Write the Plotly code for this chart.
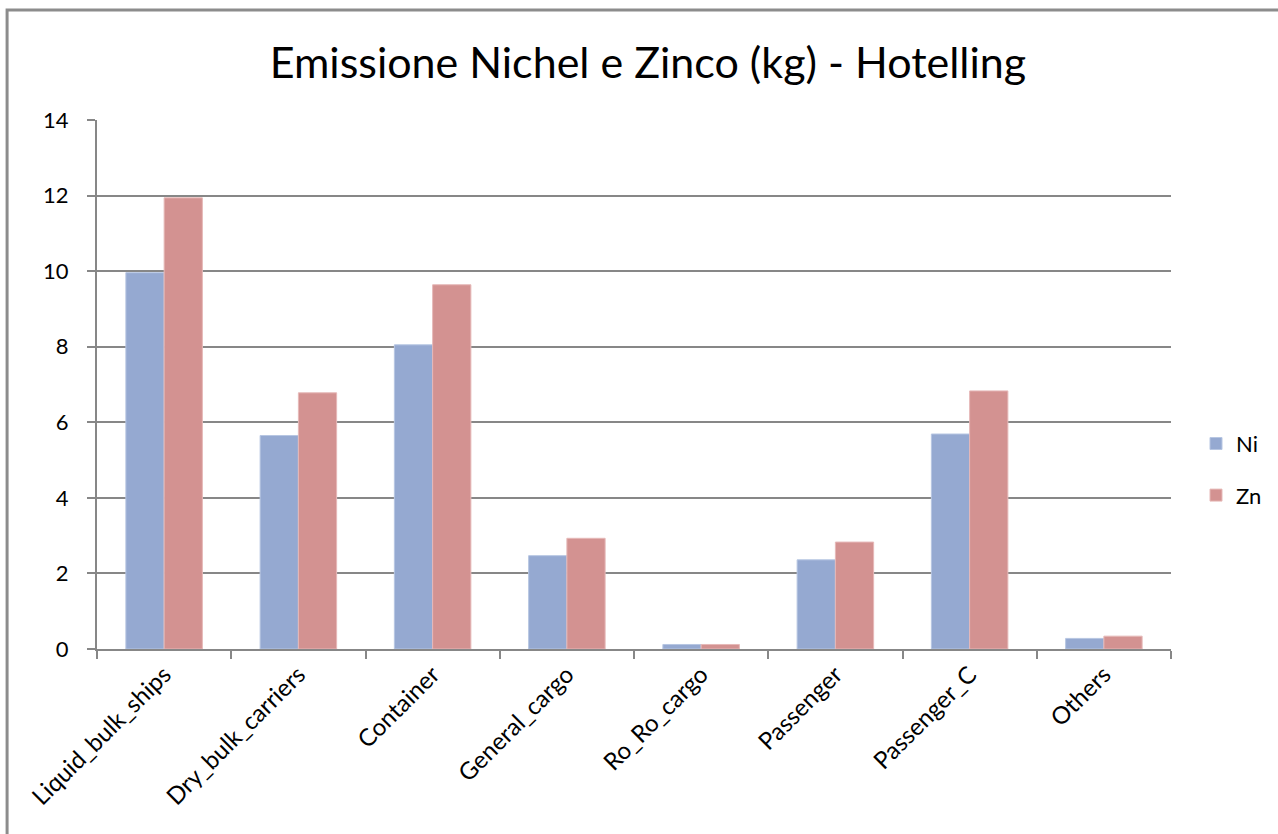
import plotly.graph_objects as go

categories = ["Liquid_bulk_ships", "Dry_bulk_carriers", "Container", "General_cargo",
              "Ro_Ro_cargo", "Passenger", "Passenger_C", "Others"]
ni_values = [9.96, 5.65, 8.05, 2.47, 0.12, 2.36, 5.69, 0.28]
zn_values = [11.94, 6.78, 9.64, 2.93, 0.12, 2.83, 6.83, 0.34]
y_ticks = [0, 2, 4, 6, 8, 10, 12, 14]

FONT = "Lato, Calibri, Carlito, sans-serif"
GRID = "#878787"

fig = go.Figure()
fig.add_trace(go.Bar(
    name="Ni", x=categories, y=ni_values,
    marker=dict(color="#95A9D1", line=dict(color="#B7C6E2", width=1)),
    legendgroup="ni",
))
fig.add_trace(go.Bar(
    name="Zn", x=categories, y=zn_values,
    marker=dict(color="#D39291", line=dict(color="#E6B9B8", width=1)),
    legendgroup="zn",
))

W, H = 1278, 834
L, R, T, B = 97, 106, 120, 184.5
pw, ph = W - L - R, H - T - B

def px_x(v):
    return (v - L) / pw

def px_y(v):
    return (H - B - v) / ph

fig.update_layout(
    width=W, height=H,
    margin=dict(l=L, r=R, t=T, b=B),
    paper_bgcolor="white", plot_bgcolor="white",
    barmode="group", bargap=0.43, bargroupgap=0,
    font=dict(family=FONT, color="#000000", size=22),
    title=dict(text="Emissione Nichel e Zinco (kg) - Hotelling",
               x=0.507, xanchor="center", y=0.925, yanchor="middle",
               font=dict(family=FONT, size=43, color="#000000")),
    showlegend=True,
    legend=dict(x=px_x(1196), y=px_y(423), xanchor="left", yanchor="top",
                font=dict(family=FONT, size=22), tracegroupgap=20,
                itemwidth=30, bgcolor="rgba(0,0,0,0)"),
    xaxis=dict(
        type="category", tickangle=-45, showgrid=False,
        showline=True, linecolor=GRID, linewidth=2,
        ticks="outside", tickson="boundaries", ticklen=8, tickcolor=GRID, tickwidth=2,
        tickfont=dict(family=FONT, size=24),
    ),
    yaxis=dict(
        range=[0, 14], tickvals=y_ticks, ticktext=[str(v) for v in y_ticks],
        showgrid=True, gridcolor=GRID, gridwidth=2,
        showline=True, linecolor=GRID, linewidth=2,
        ticks="outside", ticklen=8, tickcolor=GRID, tickwidth=2,
        ticklabelstandoff=14,
        tickfont=dict(family=FONT, size=22), zeroline=False,
    ),
    shapes=[dict(type="rect", xref="paper", yref="paper",
                 x0=px_x(7), x1=px_x(W + 20), y0=px_y(H + 20), y1=px_y(10),
                 line=dict(color="#8C8C8C", width=3), fillcolor="rgba(0,0,0,0)",
                 layer="below")],
)

fig.write_html("out.html")
